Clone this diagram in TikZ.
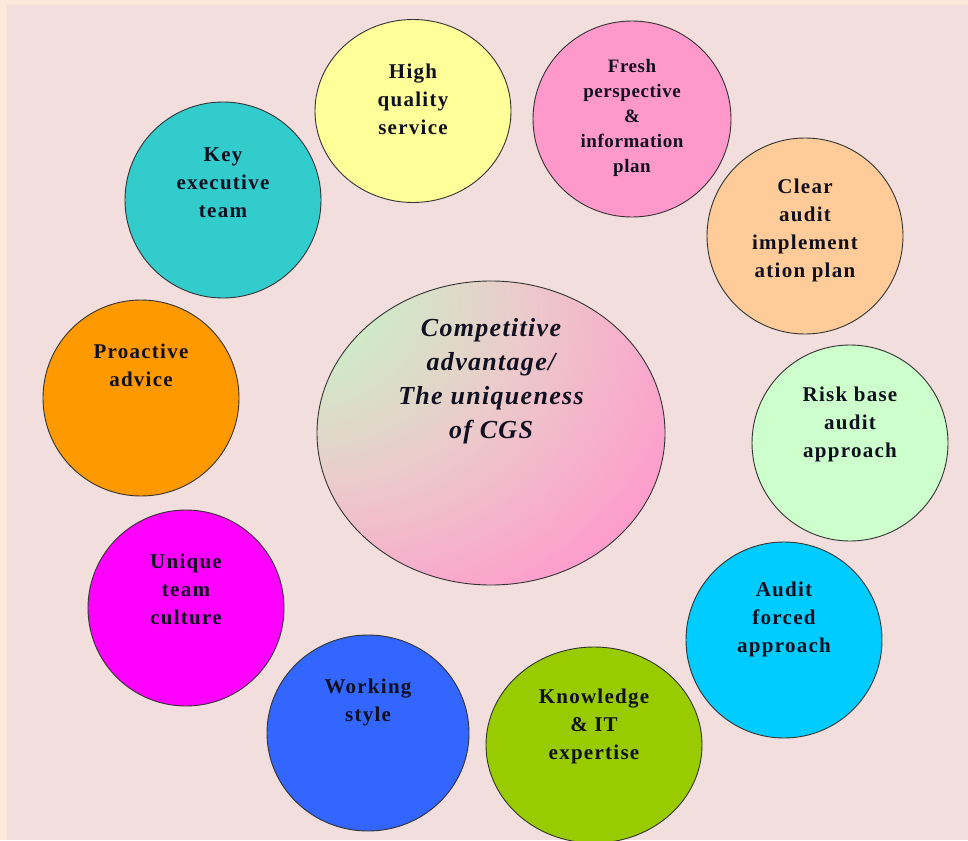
\documentclass[tikz,border=0pt]{standalone}
\usepackage{fontspec}
\setmainfont{Liberation Serif}
\usetikzlibrary{shapes.geometric}
\definecolor{frame}{HTML}{FCE9DB}
\definecolor{bg}{HTML}{F2DEDD}
\definecolor{cyellow}{HTML}{FFFF99}
\definecolor{cpink}{HTML}{FF99CC}
\definecolor{cpeach}{HTML}{FFCC99}
\definecolor{cmint}{HTML}{CCFFCC}
\definecolor{csky}{HTML}{00CCFF}
\definecolor{clime}{HTML}{99CC00}
\definecolor{cblue}{HTML}{3366FF}
\definecolor{cmag}{HTML}{FF00FF}
\definecolor{corange}{HTML}{FF9900}
\definecolor{cteal}{HTML}{33CCCC}
\definecolor{cgsgreen}{HTML}{C6F4C6}
\definecolor{cgsmid}{HTML}{ECCACB}
\definecolor{txtc}{HTML}{101020}
\pgfdeclareradialshading{cgsshade}{\pgfpoint{-36bp}{30bp}}{%
  color(0bp)=(cgsgreen); color(10bp)=(cgsgreen); color(30bp)=(cgsmid);
  color(50bp)=(cpink); color(100bp)=(cpink)}
\tikzset{
  bubble/.style={ellipse, draw=black!80, line width=0.9pt, inner sep=0pt,
    minimum width=196pt, minimum height=196pt},
  label text/.style={align=center, text=txtc,
    font=\fontsize{21}{28}\selectfont\bfseries\addfontfeature{LetterSpace=6}},
  small label text/.style={align=center, text=txtc,
    font=\fontsize{19}{25}\selectfont\bfseries\addfontfeature{LetterSpace=3}},
  core text/.style={align=center, text=txtc,
    font=\fontsize{26}{34}\selectfont\bfseries\itshape\addfontfeature{LetterSpace=5}},
}
\begin{document}
\begin{tikzpicture}[x=1pt,y=-1pt]
\useasboundingbox (0,0) rectangle (968,840);
\fill[frame] (0,0) rectangle (968,840);
\fill[bg] (7,5) rectangle (968,840);

% centre
\node[bubble, shading=cgsshade, minimum width=348pt, minimum height=304pt] (core) at (491,433) {};
\node[core text] (coret) at (491,381) {Competitive\\advantage/\\The uniqueness\\of CGS};

% surrounding bubbles
\node[bubble, fill=cyellow, minimum height=183pt] (hq) at (413,111) {};
\node[label text] (hqt) at (413,99) {High\\quality\\service};

\node[bubble, fill=cpink, minimum width=198pt] (fresh) at (632,119) {};
\node[small label text] (fresht) at (632,118) {Fresh\\perspective\\\&\\information\\plan};

\node[bubble, fill=cpeach] (clear) at (805,236) {};
\node[label text] (cleart) at (805,230) {Clear\\audit\\implement\\ation plan};

\node[bubble, fill=cmint] (risk) at (850,443) {};
\node[label text] (riskt) at (850,424) {Risk base\\audit\\approach};

\node[bubble, fill=csky] (forced) at (784,640) {};
\node[label text] (forcedt) at (784,619) {Audit\\forced\\approach};

\node[bubble, fill=clime, minimum width=216pt, minimum height=196pt] (know) at (594,745) {};
\node[label text] (knowt) at (594,726) {Knowledge\\\& IT\\expertise};

\node[bubble, fill=cblue, minimum width=202pt] (work) at (368,733) {};
\node[label text] (workt) at (368,702) {Working\\style};

\node[bubble, fill=cmag] (unique) at (186,608) {};
\node[label text] (uniquet) at (186,589) {Unique\\team\\culture};

\node[bubble, fill=corange] (pro) at (141,398) {};
\node[label text] (prot) at (141,365) {Proactive\\advice};

\node[bubble, fill=cteal] (key) at (223,200) {};
\node[label text] (keyt) at (223,183) {Key\\executive\\team};
\end{tikzpicture}
\end{document}
